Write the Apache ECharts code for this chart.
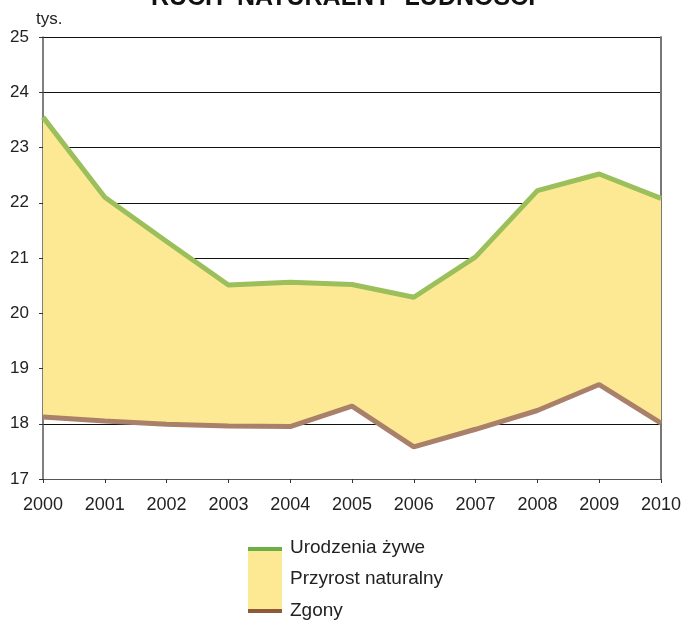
<!DOCTYPE html>
<html>
<head>
<meta charset="utf-8">
<script src="https://cdn.jsdelivr.net/npm/echarts@6/dist/echarts.min.js"></script>
<style>
html,body{margin:0;padding:0;background:#fff;}
#chart{width:686px;height:620px;}
</style>
</head>
<body>
<div id="chart"></div>
<script>
const years = ['2000','2001','2002','2003','2004','2005','2006','2007','2008','2009','2010'];
const births = [23.55, 22.10, 21.30, 20.51, 20.56, 20.52, 20.29, 21.02, 22.22, 22.52, 22.08];
const deaths = [18.12, 18.05, 17.99, 17.96, 17.95, 18.32, 17.58, 17.90, 18.24, 18.71, 18.01];
const yTicks = {min: 17, max: 25, interval: 1};
const titleText = 'RUCH  NATURALNY  LUDNOŚCI';
const unitText = 'tys.';
const legendNames = ['Urodzenia żywe', 'Przyrost naturalny', 'Zgony'];

const growth = births.map((b, i) => +(b - deaths[i]).toFixed(2));
const font = 'Liberation Sans, Arial, sans-serif';

const chart = echarts.init(document.getElementById('chart'), null, {renderer: 'canvas'});
chart.setOption({
  animation: false,
  backgroundColor: '#fff',
  title: {
    text: titleText, left: 'center', top: -14, padding: 0,
    textStyle: {fontFamily: font, fontSize: 25, fontWeight: 'bold', color: '#111'}
  },
  grid: {left: 43, right: 25, top: 37, bottom: 141, containLabel: false},
  xAxis: {
    type: 'category', data: years, boundaryGap: false,
    axisLine: {lineStyle: {color: '#555', width: 1}},
    axisTick: {show: true, length: 4, alignWithLabel: true, lineStyle: {color: '#333'}},
    axisLabel: {fontFamily: font, fontSize: 18, color: '#222', margin: 17},
    splitLine: {show: false}
  },
  yAxis: [{
    type: 'value', min: yTicks.min, max: yTicks.max, interval: yTicks.interval,
    name: unitText, nameLocation: 'end', nameGap: 9,
    nameTextStyle: {fontFamily: font, fontSize: 17, color: '#222', align: 'left', padding: [0,0,0,-7]},
    axisLine: {show: true, lineStyle: {color: '#555', width: 1.5}},
    axisTick: {show: true, inside: false, length: 4, lineStyle: {color: '#333'}},
    axisLabel: {fontFamily: font, fontSize: 17, color: '#222', margin: 14},
    splitLine: {show: true, lineStyle: {color: '#111', width: 1.2}}
  }, {
    type: 'value', position: 'right', min: yTicks.min, max: yTicks.max, interval: yTicks.interval,
    axisLine: {show: true, lineStyle: {color: '#777', width: 2}},
    axisTick: {show: false}, axisLabel: {show: false}, splitLine: {show: false}
  }],
  series: [
    {
      name: legendNames[2], type: 'line', data: deaths, stack: 'total',
      symbol: 'none', z: 4,
      lineStyle: {color: '#A9806A', width: 5},
      itemStyle: {color: '#A9806A'}
    },
    {
      name: legendNames[1], type: 'line', data: growth, stack: 'total',
      symbol: 'none', z: 2,
      lineStyle: {width: 0, opacity: 0},
      areaStyle: {color: '#FDE993', opacity: 1},
      itemStyle: {color: '#FDE993'}
    },
    {
      name: legendNames[0], type: 'line', data: births,
      symbol: 'none', z: 5,
      lineStyle: {color: '#9BBF5A', width: 5},
      itemStyle: {color: '#9BBF5A'}
    }
  ],
  graphic: [
    {type: 'rect', shape: {x: 248, y: 549, width: 34, height: 62}, style: {fill: '#FDE993'}},
    {type: 'rect', shape: {x: 248, y: 547, width: 34, height: 4}, style: {fill: '#6AAF45'}},
    {type: 'rect', shape: {x: 248, y: 609, width: 34, height: 4}, style: {fill: '#8E5A3A'}},
    {type: 'text', left: 290, top: 538, style: {text: legendNames[0], font: '19px ' + font, fill: '#222'}},
    {type: 'text', left: 290, top: 569, style: {text: legendNames[1], font: '19px ' + font, fill: '#222'}},
    {type: 'text', left: 290, top: 601, style: {text: legendNames[2], font: '19px ' + font, fill: '#222'}}
  ]
});
</script>
</body>
</html>
